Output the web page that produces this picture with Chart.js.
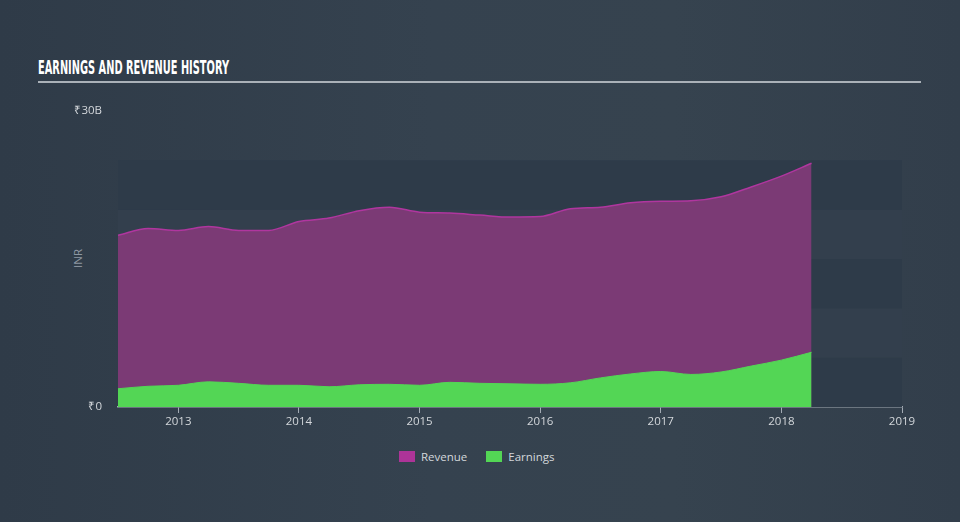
<!DOCTYPE html>
<html>
<head>
<meta charset="utf-8">
<script src="https://cdn.jsdelivr.net/npm/chart.js@4"></script>
<style>
  html, body { margin: 0; padding: 0; }
  body {
    width: 960px; height: 522px; overflow: hidden; position: relative;
    background: linear-gradient(90deg, #2f3b48 0%, #35424f 45%, #36434f 70%, #323e4b 100%);
    font-family: "Open Sans", sans-serif;
  }
  #titulo {
    position: absolute; left: 38px; top: 56px; white-space: nowrap;
    font-family: "DejaVu Sans Condensed", "Liberation Sans Narrow", sans-serif;
    font-weight: bold; font-size: 17px; color: #ffffff;
    transform-origin: left top;
  }
  #linha { position: absolute; left: 38px; top: 81px; width: 883px; height: 2px; background: #aab1b8; }
  #inr {
    position: absolute; left: 68px; top: 251px; font-size: 11.5px; color: #8d97a2;
    transform: rotate(-90deg); transform-origin: center center;
  }
  #legenda {
    position: absolute; top: 449px; left: 399px; font-size: 11.5px; color: #d3d7db;
    display: flex; align-items: center;
  }
  #legenda span.caixa { display: inline-block; width: 16px; height: 11px; margin-right: 6px; }
  #legenda span.item { margin-right: 19px; display: flex; align-items: center; }
  canvas { position: absolute; left: 0; top: 0; }
</style>
</head>
<body>
<div id="titulo">EARNINGS AND REVENUE HISTORY</div>
<div id="linha"></div>
<div id="inr">INR</div>
<div id="legenda">
  <span class="item"><span class="caixa" style="background:#ad3498"></span>Revenue</span>
  <span class="item"><span class="caixa" style="background:#53d655"></span>Earnings</span>
</div>
<canvas id="grafico" width="960" height="522"></canvas>
<script>
// trimestres (anos decimais)
const periodos = [2012.5, 2012.75, 2013, 2013.25, 2013.5, 2013.75, 2014, 2014.25, 2014.5, 2014.75,
    2015, 2015.25, 2015.5, 2015.75, 2016, 2016.25, 2016.5, 2016.75, 2017, 2017.25, 2017.5, 2017.75,
    2018, 2018.25];

// valores em bilhões de INR
const receita = [17.4, 18.1, 17.9, 18.3, 17.9, 17.9, 18.8, 19.15, 19.9, 20.25,
    19.75, 19.65, 19.45, 19.25, 19.3, 20.1, 20.25, 20.7, 20.85, 20.9, 21.3, 22.3,
    23.4, 24.7];

const lucro = [1.85, 2.1, 2.2, 2.55, 2.4, 2.2, 2.2, 2.05, 2.25, 2.3,
    2.2, 2.5, 2.4, 2.35, 2.3, 2.45, 2.95, 3.35, 3.6, 3.3, 3.55, 4.15,
    4.75, 5.55];

const anos = [2013, 2014, 2015, 2016, 2017, 2018, 2019];
const ticksY = [0, 30];
const faixas = [0, 5, 10, 15, 20, 25];

// titulo estreito, como no original
const titulo = document.getElementById('titulo');
const larguraTitulo = titulo.getBoundingClientRect().width;
titulo.style.transform = 'scale(' + (191 / larguraTitulo) + ', 1.1)';

const grafico = document.getElementById('grafico');

// faixas horizontais do fundo
const pluginFaixas = {
    id: 'faixas',
    beforeDatasetsDraw(chart) {
        const ctx = chart.ctx;
        const area = chart.chartArea;
        const y = chart.scales.y;
        ctx.save();
        for (let i = 0; i < faixas.length - 1; i++) {
            const topo = y.getPixelForValue(faixas[i + 1]);
            const base = y.getPixelForValue(faixas[i]);
            ctx.fillStyle = i % 2 == 0 ? '#2e3b49' : '#333f4d';
            ctx.fillRect(area.left, topo, area.right - area.left, base - topo);
        }
        ctx.restore();
    }
};

new Chart(grafico, {
    type: 'line',
    data: {
        datasets: [{
            label: 'Revenue',
            data: periodos.map((p, i) => ({ x: p, y: receita[i] })),
            borderColor: '#b0369f',
            borderWidth: 1.5,
            backgroundColor: '#7b3a75',
            fill: 'origin',
            pointRadius: 0,
            tension: 0.4,
            cubicInterpolationMode: 'monotone',
            order: 2
        }, {
            label: 'Earnings',
            data: periodos.map((p, i) => ({ x: p, y: lucro[i] })),
            borderColor: '#53d655',
            borderWidth: 1,
            backgroundColor: '#53d655',
            fill: 'origin',
            pointRadius: 0,
            tension: 0.4,
            cubicInterpolationMode: 'monotone',
            order: 1
        }]
    },
    options: {
        responsive: false,
        animation: false,
        layout: { padding: { top: 111, right: 58, bottom: 85, left: 0 } },
        plugins: {
            legend: { display: false },
            tooltip: { enabled: false }
        },
        scales: {
            x: {
                type: 'linear',
                min: 2012.5,
                max: 2019,
                afterBuildTicks: (eixo) => { eixo.ticks = anos.map(v => ({ value: v })); },
                afterFit: (eixo) => { eixo.height = 30; },
                grid: {
                    display: true,
                    drawOnChartArea: false,
                    drawTicks: true,
                    tickLength: 6,
                    color: '#a3abb4',
                    lineWidth: 1
                },
                border: { display: true, color: '#a3abb4', width: 1.5 },
                ticks: {
                    color: '#d3d7db',
                    font: { family: 'Open Sans', size: 11.5 },
                    padding: 2,
                    maxRotation: 0,
                    callback: (v) => String(v)
                }
            },
            y: {
                min: 0,
                max: 30,
                afterBuildTicks: (eixo) => { eixo.ticks = ticksY.map(v => ({ value: v })); },
                afterFit: (eixo) => { eixo.width = 118; },
                grid: { display: false, drawTicks: false },
                border: { display: false },
                ticks: {
                    color: '#d3d7db',
                    font: { family: 'Open Sans', size: 11.5 },
                    padding: 16,
                    callback: (v) => v == 0 ? '₹0' : '₹' + v + 'B'
                }
            }
        }
    },
    plugins: [pluginFaixas]
});
</script>
</body>
</html>
